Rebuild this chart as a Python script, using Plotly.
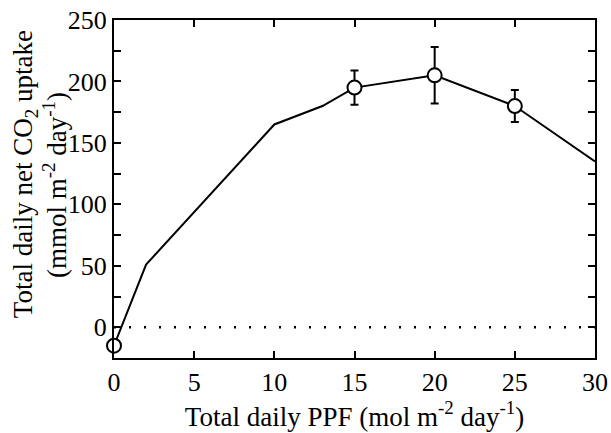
import plotly.graph_objects as go

# Model curve (line)
curve_x = [0, 2, 10, 13, 15, 20, 25, 30]
curve_y = [-15, 51, 165, 180, 195, 205, 180, 135]

# Measured points with error bars
meas_x = [0, 15, 20, 25]
meas_y = [-15, 195, 205, 180]
meas_err = [0, 14, 23, 13]

zero_x = [0, 30]
zero_y = [0, 0]

x_ticks = [0, 5, 10, 15, 20, 25, 30]
y_ticks = [0, 50, 100, 150, 200, 250]

y_title_lines = ["Total daily net CO<sub>2</sub> uptake",
                 "(mmol m<sup>-2</sup> day<sup>-1</sup>)"]
x_title = "Total daily PPF (mol m<sup>-2</sup> day<sup>-1</sup>)"

font_family = "Liberation Serif, Times New Roman, serif"

fig = go.Figure()
fig.add_trace(go.Scatter(x=zero_x, y=zero_y, mode="lines",
                         line=dict(color="black", width=2.5, dash="2px,13px"),
                         hoverinfo="skip", showlegend=False))
fig.add_trace(go.Scatter(x=curve_x, y=curve_y, mode="lines",
                         line=dict(color="black", width=2),
                         showlegend=False, cliponaxis=False))
fig.add_trace(go.Scatter(x=meas_x, y=meas_y, mode="markers",
                         marker=dict(symbol="circle", size=14, color="white",
                                     line=dict(color="black", width=2)),
                         error_y=dict(type="data", array=meas_err, visible=True,
                                      color="black", thickness=2, width=4),
                         showlegend=False, cliponaxis=False))

axis_common = dict(showline=True, linecolor="black", linewidth=2, mirror="ticks",
                   ticks="inside", ticklen=7, tickwidth=2, tickcolor="black",
                   showgrid=False, zeroline=False, automargin=False,
                   ticklabeloverflow="allow",
                   tickfont=dict(family=font_family, size=26, color="black"))

fig.update_xaxes(range=[0, 30], tickvals=x_ticks, **axis_common,
                 title=dict(text=x_title,
                            font=dict(family=font_family, size=27, color="black"),
                            standoff=4))
fig.update_yaxes(range=[-25, 250], tickvals=y_ticks, **axis_common,
                 minor=dict(dtick=25, tick0=0, ticks="inside", ticklen=7,
                            tickwidth=2, tickcolor="black", showgrid=False))

# y-axis title as two rotated lines for precise line spacing
title_font = dict(family=font_family, size=27, color="black")
fig.add_annotation(text=y_title_lines[0], xref="paper", yref="paper",
                   x=0, y=0.544, xanchor="center", yanchor="middle",
                   xshift=-89, textangle=-90, showarrow=False, font=title_font)
fig.add_annotation(text=y_title_lines[1], xref="paper", yref="paper",
                   x=0, y=0.512, xanchor="center", yanchor="middle",
                   xshift=-59, textangle=-90, showarrow=False, font=title_font)

fig.update_layout(width=611, height=433,
                  margin=dict(l=114, r=16, t=20, b=75),
                  plot_bgcolor="white", paper_bgcolor="white",
                  font=dict(family=font_family, color="black"))

# remove the default page margin so the figure fills the 611x433 window exactly
fig.write_html("out.html", config={"displayModeBar": False},
               post_script="document.body.style.margin='0';document.body.style.overflow='hidden';")
